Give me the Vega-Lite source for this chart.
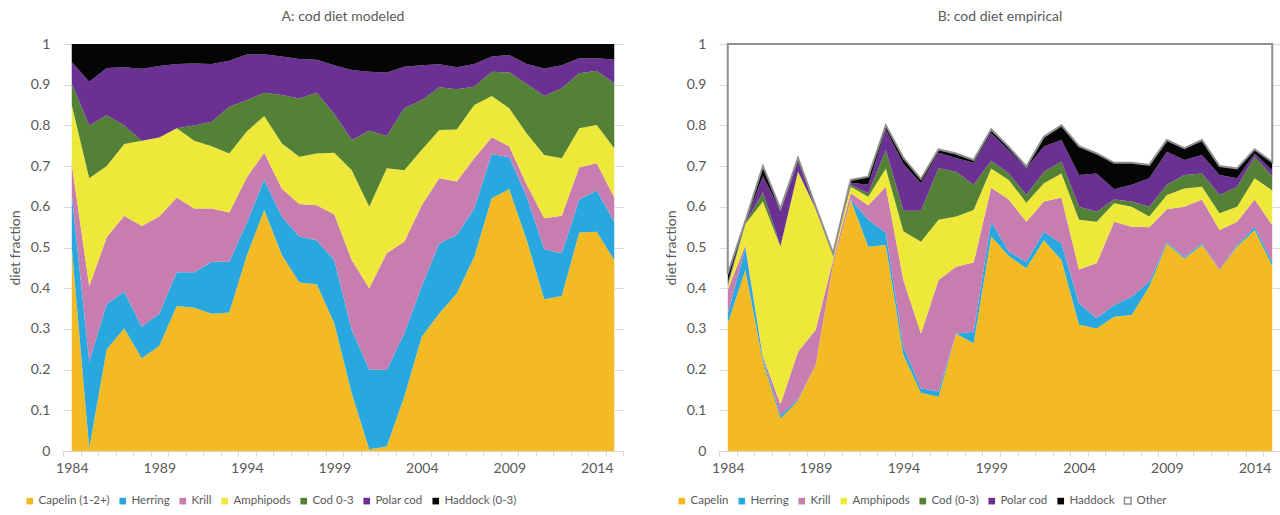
{
  "$schema": "https://vega.github.io/schema/vega-lite/v6.json",
  "background": "white",
  "padding": {"left": 8, "top": 10, "right": 0, "bottom": 0},
  "spacing": 40,
  "config": {
    "font": "Lato",
    "view": {"stroke": null},
    "axis": {
      "grid": false,
      "labelFont": "Lato",
      "labelFontSize": 14,
      "labelColor": "#595959",
      "titleFont": "Lato",
      "titleFontSize": 14,
      "titleColor": "#595959",
      "titleFontWeight": "normal",
      "domainColor": "#d9d9d9",
      "tickColor": "#d9d9d9"
    },
    "title": {"font": "Lato", "fontSize": 14, "color": "#595959", "fontWeight": "normal"},
    "legend": {
      "labelFont": "Lato",
      "labelFontSize": 11.5,
      "labelColor": "#595959",
      "symbolType": "square",
      "symbolSize": 44,
      "labelOffset": 3,
      "columnPadding": 7
    }
  },
  "resolve": {
    "scale": {"color": "independent", "stroke": "independent", "x": "independent", "y": "independent"},
    "legend": {"color": "independent", "stroke": "independent"}
  },
  "datasets": {
    "modeled": [
      {"year":1984,"prey":"Capelin (1-2+)","frac":0.5},{"year":1984,"prey":"Herring","frac":0.13},{"year":1984,"prey":"Krill","frac":0.075},{"year":1984,"prey":"Amphipods","frac":0.145},{"year":1984,"prey":"Cod 0-3","frac":0.053},{"year":1984,"prey":"Polar cod","frac":0.053},{"year":1984,"prey":"Haddock (0-3)","frac":0.044},
      {"year":1985,"prey":"Capelin (1-2+)","frac":0.007},{"year":1985,"prey":"Herring","frac":0.213},{"year":1985,"prey":"Krill","frac":0.185},{"year":1985,"prey":"Amphipods","frac":0.265},{"year":1985,"prey":"Cod 0-3","frac":0.13},{"year":1985,"prey":"Polar cod","frac":0.107},{"year":1985,"prey":"Haddock (0-3)","frac":0.093},
      {"year":1986,"prey":"Capelin (1-2+)","frac":0.25},{"year":1986,"prey":"Herring","frac":0.111},{"year":1986,"prey":"Krill","frac":0.164},{"year":1986,"prey":"Amphipods","frac":0.175},{"year":1986,"prey":"Cod 0-3","frac":0.125},{"year":1986,"prey":"Polar cod","frac":0.116},{"year":1986,"prey":"Haddock (0-3)","frac":0.059},
      {"year":1987,"prey":"Capelin (1-2+)","frac":0.301},{"year":1987,"prey":"Herring","frac":0.09},{"year":1987,"prey":"Krill","frac":0.187},{"year":1987,"prey":"Amphipods","frac":0.176},{"year":1987,"prey":"Cod 0-3","frac":0.046},{"year":1987,"prey":"Polar cod","frac":0.143},{"year":1987,"prey":"Haddock (0-3)","frac":0.057},
      {"year":1988,"prey":"Capelin (1-2+)","frac":0.228},{"year":1988,"prey":"Herring","frac":0.077},{"year":1988,"prey":"Krill","frac":0.248},{"year":1988,"prey":"Amphipods","frac":0.209},{"year":1988,"prey":"Cod 0-3","frac":0},{"year":1988,"prey":"Polar cod","frac":0.177},{"year":1988,"prey":"Haddock (0-3)","frac":0.061},
      {"year":1989,"prey":"Capelin (1-2+)","frac":0.258},{"year":1989,"prey":"Herring","frac":0.079},{"year":1989,"prey":"Krill","frac":0.239},{"year":1989,"prey":"Amphipods","frac":0.194},{"year":1989,"prey":"Cod 0-3","frac":0},{"year":1989,"prey":"Polar cod","frac":0.176},{"year":1989,"prey":"Haddock (0-3)","frac":0.054},
      {"year":1990,"prey":"Capelin (1-2+)","frac":0.356},{"year":1990,"prey":"Herring","frac":0.083},{"year":1990,"prey":"Krill","frac":0.184},{"year":1990,"prey":"Amphipods","frac":0.17},{"year":1990,"prey":"Cod 0-3","frac":0},{"year":1990,"prey":"Polar cod","frac":0.158},{"year":1990,"prey":"Haddock (0-3)","frac":0.049},
      {"year":1991,"prey":"Capelin (1-2+)","frac":0.352},{"year":1991,"prey":"Herring","frac":0.087},{"year":1991,"prey":"Krill","frac":0.157},{"year":1991,"prey":"Amphipods","frac":0.166},{"year":1991,"prey":"Cod 0-3","frac":0.038},{"year":1991,"prey":"Polar cod","frac":0.152},{"year":1991,"prey":"Haddock (0-3)","frac":0.048},
      {"year":1992,"prey":"Capelin (1-2+)","frac":0.337},{"year":1992,"prey":"Herring","frac":0.128},{"year":1992,"prey":"Krill","frac":0.131},{"year":1992,"prey":"Amphipods","frac":0.153},{"year":1992,"prey":"Cod 0-3","frac":0.06},{"year":1992,"prey":"Polar cod","frac":0.142},{"year":1992,"prey":"Haddock (0-3)","frac":0.049},
      {"year":1993,"prey":"Capelin (1-2+)","frac":0.34},{"year":1993,"prey":"Herring","frac":0.125},{"year":1993,"prey":"Krill","frac":0.121},{"year":1993,"prey":"Amphipods","frac":0.145},{"year":1993,"prey":"Cod 0-3","frac":0.115},{"year":1993,"prey":"Polar cod","frac":0.113},{"year":1993,"prey":"Haddock (0-3)","frac":0.041},
      {"year":1994,"prey":"Capelin (1-2+)","frac":0.48},{"year":1994,"prey":"Herring","frac":0.08},{"year":1994,"prey":"Krill","frac":0.112},{"year":1994,"prey":"Amphipods","frac":0.113},{"year":1994,"prey":"Cod 0-3","frac":0.077},{"year":1994,"prey":"Polar cod","frac":0.112},{"year":1994,"prey":"Haddock (0-3)","frac":0.026},
      {"year":1995,"prey":"Capelin (1-2+)","frac":0.592},{"year":1995,"prey":"Herring","frac":0.075},{"year":1995,"prey":"Krill","frac":0.066},{"year":1995,"prey":"Amphipods","frac":0.09},{"year":1995,"prey":"Cod 0-3","frac":0.057},{"year":1995,"prey":"Polar cod","frac":0.095},{"year":1995,"prey":"Haddock (0-3)","frac":0.025},
      {"year":1996,"prey":"Capelin (1-2+)","frac":0.482},{"year":1996,"prey":"Herring","frac":0.094},{"year":1996,"prey":"Krill","frac":0.069},{"year":1996,"prey":"Amphipods","frac":0.111},{"year":1996,"prey":"Cod 0-3","frac":0.119},{"year":1996,"prey":"Polar cod","frac":0.094},{"year":1996,"prey":"Haddock (0-3)","frac":0.031},
      {"year":1997,"prey":"Capelin (1-2+)","frac":0.414},{"year":1997,"prey":"Herring","frac":0.113},{"year":1997,"prey":"Krill","frac":0.08},{"year":1997,"prey":"Amphipods","frac":0.116},{"year":1997,"prey":"Cod 0-3","frac":0.143},{"year":1997,"prey":"Polar cod","frac":0.097},{"year":1997,"prey":"Haddock (0-3)","frac":0.037},
      {"year":1998,"prey":"Capelin (1-2+)","frac":0.41},{"year":1998,"prey":"Herring","frac":0.108},{"year":1998,"prey":"Krill","frac":0.086},{"year":1998,"prey":"Amphipods","frac":0.127},{"year":1998,"prey":"Cod 0-3","frac":0.149},{"year":1998,"prey":"Polar cod","frac":0.081},{"year":1998,"prey":"Haddock (0-3)","frac":0.039},
      {"year":1999,"prey":"Capelin (1-2+)","frac":0.314},{"year":1999,"prey":"Herring","frac":0.155},{"year":1999,"prey":"Krill","frac":0.113},{"year":1999,"prey":"Amphipods","frac":0.151},{"year":1999,"prey":"Cod 0-3","frac":0.095},{"year":1999,"prey":"Polar cod","frac":0.12},{"year":1999,"prey":"Haddock (0-3)","frac":0.052},
      {"year":2000,"prey":"Capelin (1-2+)","frac":0.142},{"year":2000,"prey":"Herring","frac":0.155},{"year":2000,"prey":"Krill","frac":0.172},{"year":2000,"prey":"Amphipods","frac":0.221},{"year":2000,"prey":"Cod 0-3","frac":0.074},{"year":2000,"prey":"Polar cod","frac":0.172},{"year":2000,"prey":"Haddock (0-3)","frac":0.064},
      {"year":2001,"prey":"Capelin (1-2+)","frac":0.004},{"year":2001,"prey":"Herring","frac":0.196},{"year":2001,"prey":"Krill","frac":0.2},{"year":2001,"prey":"Amphipods","frac":0.2},{"year":2001,"prey":"Cod 0-3","frac":0.187},{"year":2001,"prey":"Polar cod","frac":0.145},{"year":2001,"prey":"Haddock (0-3)","frac":0.068},
      {"year":2002,"prey":"Capelin (1-2+)","frac":0.011},{"year":2002,"prey":"Herring","frac":0.188},{"year":2002,"prey":"Krill","frac":0.287},{"year":2002,"prey":"Amphipods","frac":0.209},{"year":2002,"prey":"Cod 0-3","frac":0.079},{"year":2002,"prey":"Polar cod","frac":0.156},{"year":2002,"prey":"Haddock (0-3)","frac":0.07},
      {"year":2003,"prey":"Capelin (1-2+)","frac":0.133},{"year":2003,"prey":"Herring","frac":0.156},{"year":2003,"prey":"Krill","frac":0.225},{"year":2003,"prey":"Amphipods","frac":0.176},{"year":2003,"prey":"Cod 0-3","frac":0.152},{"year":2003,"prey":"Polar cod","frac":0.102},{"year":2003,"prey":"Haddock (0-3)","frac":0.056},
      {"year":2004,"prey":"Capelin (1-2+)","frac":0.281},{"year":2004,"prey":"Herring","frac":0.123},{"year":2004,"prey":"Krill","frac":0.2},{"year":2004,"prey":"Amphipods","frac":0.136},{"year":2004,"prey":"Cod 0-3","frac":0.122},{"year":2004,"prey":"Polar cod","frac":0.086},{"year":2004,"prey":"Haddock (0-3)","frac":0.052},
      {"year":2005,"prey":"Capelin (1-2+)","frac":0.338},{"year":2005,"prey":"Herring","frac":0.172},{"year":2005,"prey":"Krill","frac":0.16},{"year":2005,"prey":"Amphipods","frac":0.119},{"year":2005,"prey":"Cod 0-3","frac":0.105},{"year":2005,"prey":"Polar cod","frac":0.056},{"year":2005,"prey":"Haddock (0-3)","frac":0.05},
      {"year":2006,"prey":"Capelin (1-2+)","frac":0.387},{"year":2006,"prey":"Herring","frac":0.144},{"year":2006,"prey":"Krill","frac":0.131},{"year":2006,"prey":"Amphipods","frac":0.128},{"year":2006,"prey":"Cod 0-3","frac":0.099},{"year":2006,"prey":"Polar cod","frac":0.054},{"year":2006,"prey":"Haddock (0-3)","frac":0.057},
      {"year":2007,"prey":"Capelin (1-2+)","frac":0.477},{"year":2007,"prey":"Herring","frac":0.119},{"year":2007,"prey":"Krill","frac":0.123},{"year":2007,"prey":"Amphipods","frac":0.131},{"year":2007,"prey":"Cod 0-3","frac":0.045},{"year":2007,"prey":"Polar cod","frac":0.056},{"year":2007,"prey":"Haddock (0-3)","frac":0.049},
      {"year":2008,"prey":"Capelin (1-2+)","frac":0.621},{"year":2008,"prey":"Herring","frac":0.109},{"year":2008,"prey":"Krill","frac":0.041},{"year":2008,"prey":"Amphipods","frac":0.101},{"year":2008,"prey":"Cod 0-3","frac":0.06},{"year":2008,"prey":"Polar cod","frac":0.037},{"year":2008,"prey":"Haddock (0-3)","frac":0.031},
      {"year":2009,"prey":"Capelin (1-2+)","frac":0.643},{"year":2009,"prey":"Herring","frac":0.079},{"year":2009,"prey":"Krill","frac":0.027},{"year":2009,"prey":"Amphipods","frac":0.093},{"year":2009,"prey":"Cod 0-3","frac":0.088},{"year":2009,"prey":"Polar cod","frac":0.043},{"year":2009,"prey":"Haddock (0-3)","frac":0.027},
      {"year":2010,"prey":"Capelin (1-2+)","frac":0.518},{"year":2010,"prey":"Herring","frac":0.107},{"year":2010,"prey":"Krill","frac":0.029},{"year":2010,"prey":"Amphipods","frac":0.126},{"year":2010,"prey":"Cod 0-3","frac":0.122},{"year":2010,"prey":"Polar cod","frac":0.049},{"year":2010,"prey":"Haddock (0-3)","frac":0.049},
      {"year":2011,"prey":"Capelin (1-2+)","frac":0.373},{"year":2011,"prey":"Herring","frac":0.123},{"year":2011,"prey":"Krill","frac":0.076},{"year":2011,"prey":"Amphipods","frac":0.155},{"year":2011,"prey":"Cod 0-3","frac":0.145},{"year":2011,"prey":"Polar cod","frac":0.068},{"year":2011,"prey":"Haddock (0-3)","frac":0.06},
      {"year":2012,"prey":"Capelin (1-2+)","frac":0.381},{"year":2012,"prey":"Herring","frac":0.105},{"year":2012,"prey":"Krill","frac":0.092},{"year":2012,"prey":"Amphipods","frac":0.141},{"year":2012,"prey":"Cod 0-3","frac":0.172},{"year":2012,"prey":"Polar cod","frac":0.057},{"year":2012,"prey":"Haddock (0-3)","frac":0.052},
      {"year":2013,"prey":"Capelin (1-2+)","frac":0.537},{"year":2013,"prey":"Herring","frac":0.081},{"year":2013,"prey":"Krill","frac":0.079},{"year":2013,"prey":"Amphipods","frac":0.096},{"year":2013,"prey":"Cod 0-3","frac":0.135},{"year":2013,"prey":"Polar cod","frac":0.037},{"year":2013,"prey":"Haddock (0-3)","frac":0.035},
      {"year":2014,"prey":"Capelin (1-2+)","frac":0.539},{"year":2014,"prey":"Herring","frac":0.101},{"year":2014,"prey":"Krill","frac":0.067},{"year":2014,"prey":"Amphipods","frac":0.094},{"year":2014,"prey":"Cod 0-3","frac":0.133},{"year":2014,"prey":"Polar cod","frac":0.031},{"year":2014,"prey":"Haddock (0-3)","frac":0.035},
      {"year":2015,"prey":"Capelin (1-2+)","frac":0.469},{"year":2015,"prey":"Herring","frac":0.094},{"year":2015,"prey":"Krill","frac":0.06},{"year":2015,"prey":"Amphipods","frac":0.121},{"year":2015,"prey":"Cod 0-3","frac":0.159},{"year":2015,"prey":"Polar cod","frac":0.059},{"year":2015,"prey":"Haddock (0-3)","frac":0.038}
    ],
    "empirical": [
      {"year":1984,"prey":"Capelin","frac":0.314},{"year":1984,"prey":"Herring","frac":0.023},{"year":1984,"prey":"Krill","frac":0.059},{"year":1984,"prey":"Amphipods","frac":0.009},{"year":1984,"prey":"Cod (0-3)","frac":0.005},{"year":1984,"prey":"Polar cod","frac":0.005},{"year":1984,"prey":"Haddock","frac":0.02},{"year":1984,"prey":"Other","frac":0.565},
      {"year":1985,"prey":"Capelin","frac":0.445},{"year":1985,"prey":"Herring","frac":0.055},{"year":1985,"prey":"Krill","frac":0.006},{"year":1985,"prey":"Amphipods","frac":0.052},{"year":1985,"prey":"Cod (0-3)","frac":0.002},{"year":1985,"prey":"Polar cod","frac":0.002},{"year":1985,"prey":"Haddock","frac":0.003},{"year":1985,"prey":"Other","frac":0.435},
      {"year":1986,"prey":"Capelin","frac":0.22},{"year":1986,"prey":"Herring","frac":0.008},{"year":1986,"prey":"Krill","frac":0.005},{"year":1986,"prey":"Amphipods","frac":0.38},{"year":1986,"prey":"Cod (0-3)","frac":0.022},{"year":1986,"prey":"Polar cod","frac":0.04},{"year":1986,"prey":"Haddock","frac":0.025},{"year":1986,"prey":"Other","frac":0.3},
      {"year":1987,"prey":"Capelin","frac":0.08},{"year":1987,"prey":"Herring","frac":0.008},{"year":1987,"prey":"Krill","frac":0.027},{"year":1987,"prey":"Amphipods","frac":0.387},{"year":1987,"prey":"Cod (0-3)","frac":0.002},{"year":1987,"prey":"Polar cod","frac":0.086},{"year":1987,"prey":"Haddock","frac":0.005},{"year":1987,"prey":"Other","frac":0.405},
      {"year":1988,"prey":"Capelin","frac":0.124},{"year":1988,"prey":"Herring","frac":0.003},{"year":1988,"prey":"Krill","frac":0.117},{"year":1988,"prey":"Amphipods","frac":0.442},{"year":1988,"prey":"Cod (0-3)","frac":0.001},{"year":1988,"prey":"Polar cod","frac":0.023},{"year":1988,"prey":"Haddock","frac":0.01},{"year":1988,"prey":"Other","frac":0.28},
      {"year":1989,"prey":"Capelin","frac":0.211},{"year":1989,"prey":"Herring","frac":0},{"year":1989,"prey":"Krill","frac":0.086},{"year":1989,"prey":"Amphipods","frac":0.298},{"year":1989,"prey":"Cod (0-3)","frac":0},{"year":1989,"prey":"Polar cod","frac":0.004},{"year":1989,"prey":"Haddock","frac":0.002},{"year":1989,"prey":"Other","frac":0.399},
      {"year":1990,"prey":"Capelin","frac":0.46},{"year":1990,"prey":"Herring","frac":0},{"year":1990,"prey":"Krill","frac":0.01},{"year":1990,"prey":"Amphipods","frac":0.015},{"year":1990,"prey":"Cod (0-3)","frac":0},{"year":1990,"prey":"Polar cod","frac":0},{"year":1990,"prey":"Haddock","frac":0},{"year":1990,"prey":"Other","frac":0.515},
      {"year":1991,"prey":"Capelin","frac":0.617},{"year":1991,"prey":"Herring","frac":0.001},{"year":1991,"prey":"Krill","frac":0.015},{"year":1991,"prey":"Amphipods","frac":0.016},{"year":1991,"prey":"Cod (0-3)","frac":0.005},{"year":1991,"prey":"Polar cod","frac":0.005},{"year":1991,"prey":"Haddock","frac":0.007},{"year":1991,"prey":"Other","frac":0.334},
      {"year":1992,"prey":"Capelin","frac":0.502},{"year":1992,"prey":"Herring","frac":0.066},{"year":1992,"prey":"Krill","frac":0.036},{"year":1992,"prey":"Amphipods","frac":0.021},{"year":1992,"prey":"Cod (0-3)","frac":0.008},{"year":1992,"prey":"Polar cod","frac":0.021},{"year":1992,"prey":"Haddock","frac":0.02},{"year":1992,"prey":"Other","frac":0.326},
      {"year":1993,"prey":"Capelin","frac":0.506},{"year":1993,"prey":"Herring","frac":0.03},{"year":1993,"prey":"Krill","frac":0.113},{"year":1993,"prey":"Amphipods","frac":0.045},{"year":1993,"prey":"Cod (0-3)","frac":0.045},{"year":1993,"prey":"Polar cod","frac":0.051},{"year":1993,"prey":"Haddock","frac":0.01},{"year":1993,"prey":"Other","frac":0.2},
      {"year":1994,"prey":"Capelin","frac":0.236},{"year":1994,"prey":"Herring","frac":0.02},{"year":1994,"prey":"Krill","frac":0.164},{"year":1994,"prey":"Amphipods","frac":0.12},{"year":1994,"prey":"Cod (0-3)","frac":0.05},{"year":1994,"prey":"Polar cod","frac":0.115},{"year":1994,"prey":"Haddock","frac":0.015},{"year":1994,"prey":"Other","frac":0.28},
      {"year":1995,"prey":"Capelin","frac":0.143},{"year":1995,"prey":"Herring","frac":0.011},{"year":1995,"prey":"Krill","frac":0.135},{"year":1995,"prey":"Amphipods","frac":0.225},{"year":1995,"prey":"Cod (0-3)","frac":0.076},{"year":1995,"prey":"Polar cod","frac":0.068},{"year":1995,"prey":"Haddock","frac":0.01},{"year":1995,"prey":"Other","frac":0.332},
      {"year":1996,"prey":"Capelin","frac":0.133},{"year":1996,"prey":"Herring","frac":0.013},{"year":1996,"prey":"Krill","frac":0.274},{"year":1996,"prey":"Amphipods","frac":0.148},{"year":1996,"prey":"Cod (0-3)","frac":0.127},{"year":1996,"prey":"Polar cod","frac":0.038},{"year":1996,"prey":"Haddock","frac":0.008},{"year":1996,"prey":"Other","frac":0.259},
      {"year":1997,"prey":"Capelin","frac":0.288},{"year":1997,"prey":"Herring","frac":0.001},{"year":1997,"prey":"Krill","frac":0.164},{"year":1997,"prey":"Amphipods","frac":0.123},{"year":1997,"prey":"Cod (0-3)","frac":0.11},{"year":1997,"prey":"Polar cod","frac":0.034},{"year":1997,"prey":"Haddock","frac":0.011},{"year":1997,"prey":"Other","frac":0.269},
      {"year":1998,"prey":"Capelin","frac":0.265},{"year":1998,"prey":"Herring","frac":0.028},{"year":1998,"prey":"Krill","frac":0.17},{"year":1998,"prey":"Amphipods","frac":0.129},{"year":1998,"prey":"Cod (0-3)","frac":0.062},{"year":1998,"prey":"Polar cod","frac":0.054},{"year":1998,"prey":"Haddock","frac":0.007},{"year":1998,"prey":"Other","frac":0.285},
      {"year":1999,"prey":"Capelin","frac":0.527},{"year":1999,"prey":"Herring","frac":0.036},{"year":1999,"prey":"Krill","frac":0.084},{"year":1999,"prey":"Amphipods","frac":0.047},{"year":1999,"prey":"Cod (0-3)","frac":0.019},{"year":1999,"prey":"Polar cod","frac":0.068},{"year":1999,"prey":"Haddock","frac":0.009},{"year":1999,"prey":"Other","frac":0.21},
      {"year":2000,"prey":"Capelin","frac":0.479},{"year":2000,"prey":"Herring","frac":0.011},{"year":2000,"prey":"Krill","frac":0.128},{"year":2000,"prey":"Amphipods","frac":0.048},{"year":2000,"prey":"Cod (0-3)","frac":0.016},{"year":2000,"prey":"Polar cod","frac":0.057},{"year":2000,"prey":"Haddock","frac":0.008},{"year":2000,"prey":"Other","frac":0.253},
      {"year":2001,"prey":"Capelin","frac":0.449},{"year":2001,"prey":"Herring","frac":0.016},{"year":2001,"prey":"Krill","frac":0.098},{"year":2001,"prey":"Amphipods","frac":0.047},{"year":2001,"prey":"Cod (0-3)","frac":0.019},{"year":2001,"prey":"Polar cod","frac":0.066},{"year":2001,"prey":"Haddock","frac":0.004},{"year":2001,"prey":"Other","frac":0.301},
      {"year":2002,"prey":"Capelin","frac":0.518},{"year":2002,"prey":"Herring","frac":0.021},{"year":2002,"prey":"Krill","frac":0.074},{"year":2002,"prey":"Amphipods","frac":0.045},{"year":2002,"prey":"Cod (0-3)","frac":0.028},{"year":2002,"prey":"Polar cod","frac":0.062},{"year":2002,"prey":"Haddock","frac":0.024},{"year":2002,"prey":"Other","frac":0.228},
      {"year":2003,"prey":"Capelin","frac":0.469},{"year":2003,"prey":"Herring","frac":0.041},{"year":2003,"prey":"Krill","frac":0.113},{"year":2003,"prey":"Amphipods","frac":0.059},{"year":2003,"prey":"Cod (0-3)","frac":0.029},{"year":2003,"prey":"Polar cod","frac":0.053},{"year":2003,"prey":"Haddock","frac":0.036},{"year":2003,"prey":"Other","frac":0.2},
      {"year":2004,"prey":"Capelin","frac":0.31},{"year":2004,"prey":"Herring","frac":0.053},{"year":2004,"prey":"Krill","frac":0.083},{"year":2004,"prey":"Amphipods","frac":0.122},{"year":2004,"prey":"Cod (0-3)","frac":0.032},{"year":2004,"prey":"Polar cod","frac":0.078},{"year":2004,"prey":"Haddock","frac":0.071},{"year":2004,"prey":"Other","frac":0.251},
      {"year":2005,"prey":"Capelin","frac":0.301},{"year":2005,"prey":"Herring","frac":0.025},{"year":2005,"prey":"Krill","frac":0.135},{"year":2005,"prey":"Amphipods","frac":0.102},{"year":2005,"prey":"Cod (0-3)","frac":0.025},{"year":2005,"prey":"Polar cod","frac":0.094},{"year":2005,"prey":"Haddock","frac":0.049},{"year":2005,"prey":"Other","frac":0.269},
      {"year":2006,"prey":"Capelin","frac":0.33},{"year":2006,"prey":"Herring","frac":0.029},{"year":2006,"prey":"Krill","frac":0.204},{"year":2006,"prey":"Amphipods","frac":0.046},{"year":2006,"prey":"Cod (0-3)","frac":0.009},{"year":2006,"prey":"Polar cod","frac":0.025},{"year":2006,"prey":"Haddock","frac":0.065},{"year":2006,"prey":"Other","frac":0.292},
      {"year":2007,"prey":"Capelin","frac":0.334},{"year":2007,"prey":"Herring","frac":0.045},{"year":2007,"prey":"Krill","frac":0.172},{"year":2007,"prey":"Amphipods","frac":0.049},{"year":2007,"prey":"Cod (0-3)","frac":0.013},{"year":2007,"prey":"Polar cod","frac":0.041},{"year":2007,"prey":"Haddock","frac":0.054},{"year":2007,"prey":"Other","frac":0.292},
      {"year":2008,"prey":"Capelin","frac":0.404},{"year":2008,"prey":"Herring","frac":0.012},{"year":2008,"prey":"Krill","frac":0.134},{"year":2008,"prey":"Amphipods","frac":0.026},{"year":2008,"prey":"Cod (0-3)","frac":0.024},{"year":2008,"prey":"Polar cod","frac":0.07},{"year":2008,"prey":"Haddock","frac":0.033},{"year":2008,"prey":"Other","frac":0.297},
      {"year":2009,"prey":"Capelin","frac":0.51},{"year":2009,"prey":"Herring","frac":0.004},{"year":2009,"prey":"Krill","frac":0.08},{"year":2009,"prey":"Amphipods","frac":0.035},{"year":2009,"prey":"Cod (0-3)","frac":0.025},{"year":2009,"prey":"Polar cod","frac":0.081},{"year":2009,"prey":"Haddock","frac":0.029},{"year":2009,"prey":"Other","frac":0.236},
      {"year":2010,"prey":"Capelin","frac":0.473},{"year":2010,"prey":"Herring","frac":0.004},{"year":2010,"prey":"Krill","frac":0.123},{"year":2010,"prey":"Amphipods","frac":0.045},{"year":2010,"prey":"Cod (0-3)","frac":0.033},{"year":2010,"prey":"Polar cod","frac":0.037},{"year":2010,"prey":"Haddock","frac":0.029},{"year":2010,"prey":"Other","frac":0.256},
      {"year":2011,"prey":"Capelin","frac":0.506},{"year":2011,"prey":"Herring","frac":0.004},{"year":2011,"prey":"Krill","frac":0.108},{"year":2011,"prey":"Amphipods","frac":0.031},{"year":2011,"prey":"Cod (0-3)","frac":0.033},{"year":2011,"prey":"Polar cod","frac":0.045},{"year":2011,"prey":"Haddock","frac":0.037},{"year":2011,"prey":"Other","frac":0.236},
      {"year":2012,"prey":"Capelin","frac":0.445},{"year":2012,"prey":"Herring","frac":0.001},{"year":2012,"prey":"Krill","frac":0.097},{"year":2012,"prey":"Amphipods","frac":0.041},{"year":2012,"prey":"Cod (0-3)","frac":0.045},{"year":2012,"prey":"Polar cod","frac":0.049},{"year":2012,"prey":"Haddock","frac":0.022},{"year":2012,"prey":"Other","frac":0.3},
      {"year":2013,"prey":"Capelin","frac":0.502},{"year":2013,"prey":"Herring","frac":0.004},{"year":2013,"prey":"Krill","frac":0.057},{"year":2013,"prey":"Amphipods","frac":0.037},{"year":2013,"prey":"Cod (0-3)","frac":0.049},{"year":2013,"prey":"Polar cod","frac":0.021},{"year":2013,"prey":"Haddock","frac":0.024},{"year":2013,"prey":"Other","frac":0.306},
      {"year":2014,"prey":"Capelin","frac":0.543},{"year":2014,"prey":"Herring","frac":0.008},{"year":2014,"prey":"Krill","frac":0.067},{"year":2014,"prey":"Amphipods","frac":0.052},{"year":2014,"prey":"Cod (0-3)","frac":0.053},{"year":2014,"prey":"Polar cod","frac":0.008},{"year":2014,"prey":"Haddock","frac":0.01},{"year":2014,"prey":"Other","frac":0.259},
      {"year":2015,"prey":"Capelin","frac":0.455},{"year":2015,"prey":"Herring","frac":0.01},{"year":2015,"prey":"Krill","frac":0.09},{"year":2015,"prey":"Amphipods","frac":0.085},{"year":2015,"prey":"Cod (0-3)","frac":0.035},{"year":2015,"prey":"Polar cod","frac":0.015},{"year":2015,"prey":"Haddock","frac":0.02},{"year":2015,"prey":"Other","frac":0.29}
    ]
  },
  "hconcat": [
    {
      "title": {"text": "A: cod diet modeled", "frame": "group", "offset": 13},
      "width": 560,
      "height": 407,
      "data": {"name": "modeled"},
      "transform": [
        {"calculate": "indexof(['Capelin (1-2+)', 'Herring', 'Krill', 'Amphipods', 'Cod 0-3', 'Polar cod', 'Haddock (0-3)'], datum.prey)", "as": "stackRank"}
      ],
      "resolve": {"axis": {"y": "independent"}},
      "layer": [
        {
          "mark": {"type": "area", "interpolate": "linear"},
          "encoding": {
            "x": {
              "field": "year", "type": "quantitative",
              "scale": {"domain": [1983.5, 2015.5], "nice": false, "zero": false},
              "axis": {
                "title": null,
                "values": [1983.5,1984.5,1985.5,1986.5,1987.5,1988.5,1989.5,1990.5,1991.5,1992.5,1993.5,1994.5,1995.5,1996.5,1997.5,1998.5,1999.5,2000.5,2001.5,2002.5,2003.5,2004.5,2005.5,2006.5,2007.5,2008.5,2009.5,2010.5,2011.5,2012.5,2013.5,2014.5,2015.5,1984,1989,1994,1999,2004,2009,2014],
                "labelExpr": "datum.value % 1 === 0 ? '' + datum.value : ''",
                "tickOpacity": {"condition": {"test": "datum.value % 1 === 0", "value": 0}, "value": 1},
                "tickSize": 5,
                "labelPadding": 5,
                "labelOverlap": false,
                "labelFlush": false
              }
            },
            "y": {
              "field": "frac", "type": "quantitative", "stack": "zero",
              "scale": {"domain": [0, 1], "nice": false},
              "axis": {
                "title": "diet fraction",
                "values": [0, 0.1, 0.2, 0.3, 0.4, 0.5, 0.6, 0.7, 0.8, 0.9, 1],
                "labelExpr": "format(datum.value, '~g')",
                "domain": false,
                "offset": -8.75,
                "tickSize": 9,
                "labelPadding": 13,
                "titlePadding": 8
              }
            },
            "order": {"field": "stackRank", "type": "quantitative"},
            "color": {
              "field": "prey", "type": "nominal",
              "sort": ["Capelin (1-2+)", "Herring", "Krill", "Amphipods", "Cod 0-3", "Polar cod", "Haddock (0-3)"],
              "scale": {
                "domain": ["Capelin (1-2+)", "Herring", "Krill", "Amphipods", "Cod 0-3", "Polar cod", "Haddock (0-3)"],
                "range": ["#f4ba24", "#29a8df", "#c87db0", "#eee83a", "#538135", "#6a3192", "#050505"]
              },
              "legend": {"title": null, "orient": "none", "direction": "horizontal", "legendX": -39, "legendY": 451, "symbolStrokeWidth": 0}
            }
          }
        },
        {
          "mark": {"type": "point", "opacity": 0},
          "encoding": {
            "y": {
              "datum": 0, "type": "quantitative",
              "axis": {"orient": "right", "title": null, "labels": false, "domain": false, "offset": -8.75, "tickSize": 9, "values": [0, 0.1, 0.2, 0.3, 0.4, 0.5, 0.6, 0.7, 0.8, 0.9, 1]}
            }
          }
        }
      ]
    },
    {
      "title": {"text": "B: cod diet empirical", "frame": "group", "offset": 13},
      "width": 562,
      "height": 407,
      "data": {"name": "empirical"},
      "transform": [
        {"calculate": "indexof(['Capelin', 'Herring', 'Krill', 'Amphipods', 'Cod (0-3)', 'Polar cod', 'Haddock', 'Other'], datum.prey)", "as": "stackRank"}
      ],
      "resolve": {"axis": {"y": "independent"}},
      "layer": [
        {
          "transform": [{"filter": "datum.prey !== 'Other'"}],
          "mark": {"type": "area", "interpolate": "linear"},
          "encoding": {
            "x": {
              "field": "year", "type": "quantitative",
              "scale": {"domain": [1983.5, 2015.5], "nice": false, "zero": false},
              "axis": {
                "title": null,
                "values": [1983.5,1984.5,1985.5,1986.5,1987.5,1988.5,1989.5,1990.5,1991.5,1992.5,1993.5,1994.5,1995.5,1996.5,1997.5,1998.5,1999.5,2000.5,2001.5,2002.5,2003.5,2004.5,2005.5,2006.5,2007.5,2008.5,2009.5,2010.5,2011.5,2012.5,2013.5,2014.5,2015.5,1984,1989,1994,1999,2004,2009,2014],
                "labelExpr": "datum.value % 1 === 0 ? '' + datum.value : ''",
                "tickOpacity": {"condition": {"test": "datum.value % 1 === 0", "value": 0}, "value": 1},
                "tickSize": 5,
                "labelPadding": 5,
                "labelOverlap": false,
                "labelFlush": false
              }
            },
            "y": {
              "field": "frac", "type": "quantitative", "stack": "zero",
              "scale": {"domain": [0, 1], "nice": false},
              "axis": {
                "title": "diet fraction",
                "values": [0, 0.1, 0.2, 0.3, 0.4, 0.5, 0.6, 0.7, 0.8, 0.9, 1],
                "labelExpr": "format(datum.value, '~g')",
                "domain": false,
                "offset": -8.75,
                "tickSize": 9,
                "labelPadding": 13,
                "titlePadding": 8
              }
            },
            "order": {"field": "stackRank", "type": "quantitative"},
            "color": {
              "field": "prey", "type": "nominal",
              "sort": ["Capelin", "Herring", "Krill", "Amphipods", "Cod (0-3)", "Polar cod", "Haddock"],
              "scale": {
                "domain": ["Capelin", "Herring", "Krill", "Amphipods", "Cod (0-3)", "Polar cod", "Haddock"],
                "range": ["#f4ba24", "#29a8df", "#c87db0", "#eee83a", "#538135", "#6a3192", "#050505"]
              },
              "legend": {"title": null, "orient": "none", "direction": "horizontal", "legendX": -43, "legendY": 451, "symbolStrokeWidth": 0}
            }
          }
        },
        {
          "transform": [
            {"stack": "frac", "groupby": ["year"], "sort": [{"field": "stackRank", "order": "ascending"}], "as": ["lower", "upper"]},
            {"filter": "datum.prey === 'Other'"}
          ],
          "mark": {"type": "area", "interpolate": "linear", "fill": "#ffffff", "strokeWidth": 2},
          "encoding": {
            "x": {
              "field": "year", "type": "quantitative",
              "scale": {"domain": [1983.5, 2015.5], "nice": false, "zero": false},
              "axis": {
                "title": null,
                "values": [1983.5,1984.5,1985.5,1986.5,1987.5,1988.5,1989.5,1990.5,1991.5,1992.5,1993.5,1994.5,1995.5,1996.5,1997.5,1998.5,1999.5,2000.5,2001.5,2002.5,2003.5,2004.5,2005.5,2006.5,2007.5,2008.5,2009.5,2010.5,2011.5,2012.5,2013.5,2014.5,2015.5,1984,1989,1994,1999,2004,2009,2014],
                "labelExpr": "datum.value % 1 === 0 ? '' + datum.value : ''",
                "tickOpacity": {"condition": {"test": "datum.value % 1 === 0", "value": 0}, "value": 1},
                "tickSize": 5,
                "labelPadding": 5,
                "labelOverlap": false,
                "labelFlush": false
              }
            },
            "y": {"field": "upper", "type": "quantitative", "axis": null},
            "y2": {"field": "lower"},
            "stroke": {
              "field": "prey", "type": "nominal",
              "scale": {"domain": ["Other"], "range": ["#8f8f8f"]},
              "legend": {"title": null, "orient": "none", "direction": "horizontal", "legendX": 403, "legendY": 451, "symbolFillColor": "#ffffff", "symbolStrokeWidth": 1.5}
            }
          }
        },
        {
          "mark": {"type": "point", "opacity": 0},
          "encoding": {
            "y": {
              "datum": 0, "type": "quantitative",
              "axis": {"orient": "right", "title": null, "labels": false, "domain": false, "offset": -8.75, "tickSize": 9, "values": [0, 0.1, 0.2, 0.3, 0.4, 0.5, 0.6, 0.7, 0.8, 0.9, 1]}
            }
          }
        }
      ]
    }
  ]
}
